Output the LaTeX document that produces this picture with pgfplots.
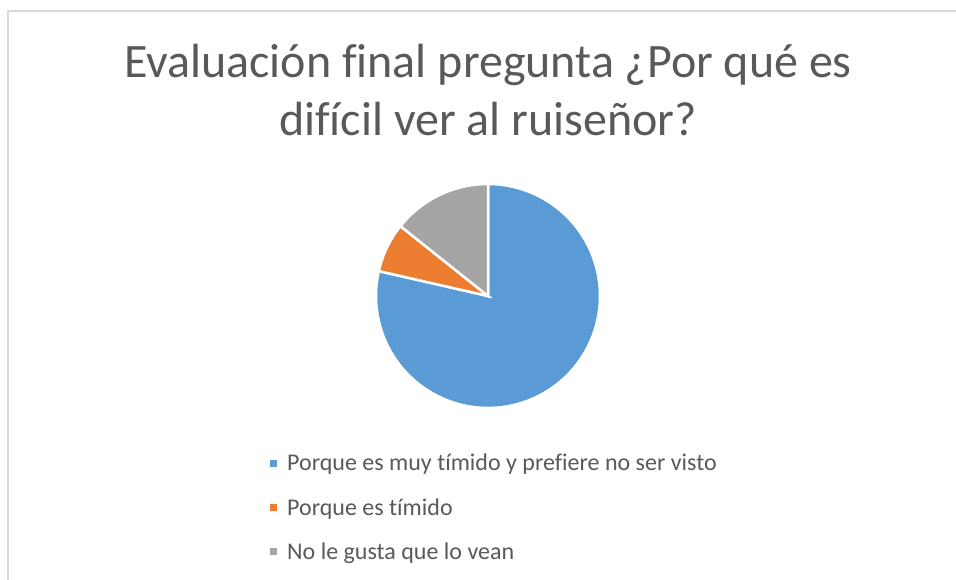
\documentclass[border=0pt]{standalone}
\usepackage{pgfplots}
\pgfplotsset{compat=1.18}
\usepackage{fontspec}
\setmainfont[Ligatures=NoCommon]{Carlito}
\definecolor{sblue}{HTML}{5B9BD5}
\definecolor{sorange}{HTML}{ED7D31}
\definecolor{sgray}{HTML}{A5A5A5}
\definecolor{txt}{HTML}{595959}
\definecolor{frame}{HTML}{D9D9D9}

% answers (number of students)
\def\va{11}
\def\vb{1}
\def\vc{2}
\pgfmathsetmacro{\tot}{\va+\vb+\vc}
\pgfmathsetmacro{\aA}{90-360*\va/\tot}  % blue: aA .. 90
\pgfmathsetmacro{\aC}{90+360*\vc/\tot}  % gray: 90 .. aC
\pgfmathsetmacro{\aB}{\aC+360*\vb/\tot} % orange: aC .. aB

\begin{document}
\begin{tikzpicture}
\path[use as bounding box] (0,0) rectangle (956bp,580bp);
\draw[frame, line width=1.5bp] (8bp,0) -- (8bp,569bp) -- (956bp,569bp);

\node[txt, anchor=base, font=\fontsize{48bp}{58bp}\selectfont] at (488bp,502bp)
  {Evaluación final pregunta ¿Por qué es};
\node[txt, anchor=base, font=\fontsize{48bp}{58bp}\selectfont] at (488bp,444bp)
  {difícil ver al ruiseñor?};

\begin{axis}[
  at={(488bp,284bp)}, anchor=center,
  width=224bp, height=224bp, scale only axis,
  xmin=-1, xmax=1, ymin=-1, ymax=1,
  hide axis, clip=false,
  samples=90,
  legend cell align=left,
  legend style={at={(-0.473,-0.197)}, anchor=north west,
                draw=none, fill=none, text=txt,
                font=\fontsize{24bp}{28bp}\selectfont,
                row sep=22bp, inner sep=0pt},
  legend image code/.code={\path[#1,draw=none] (0bp,-3.5bp) rectangle (7bp,3.5bp);
                           \path[draw=none,fill=none] (0bp,0bp) -- (15bp,0bp);},
]
\addplot[fill=sblue, draw=white, line width=2.5bp, domain=\aA:90]
  ({cos(x)},{sin(x)}) -- (axis cs:0,0) -- cycle;
\addlegendentry{Porque es muy tímido y prefiere no ser visto}
\addplot[fill=sorange, draw=white, line width=2.5bp, domain=\aC:\aB]
  ({cos(x)},{sin(x)}) -- (axis cs:0,0) -- cycle;
\addlegendentry{Porque es tímido}
\addplot[fill=sgray, draw=white, line width=2.5bp, domain=90:\aC]
  ({cos(x)},{sin(x)}) -- (axis cs:0,0) -- cycle;
\addlegendentry{No le gusta que lo vean}
\end{axis}
\end{tikzpicture}
\end{document}
